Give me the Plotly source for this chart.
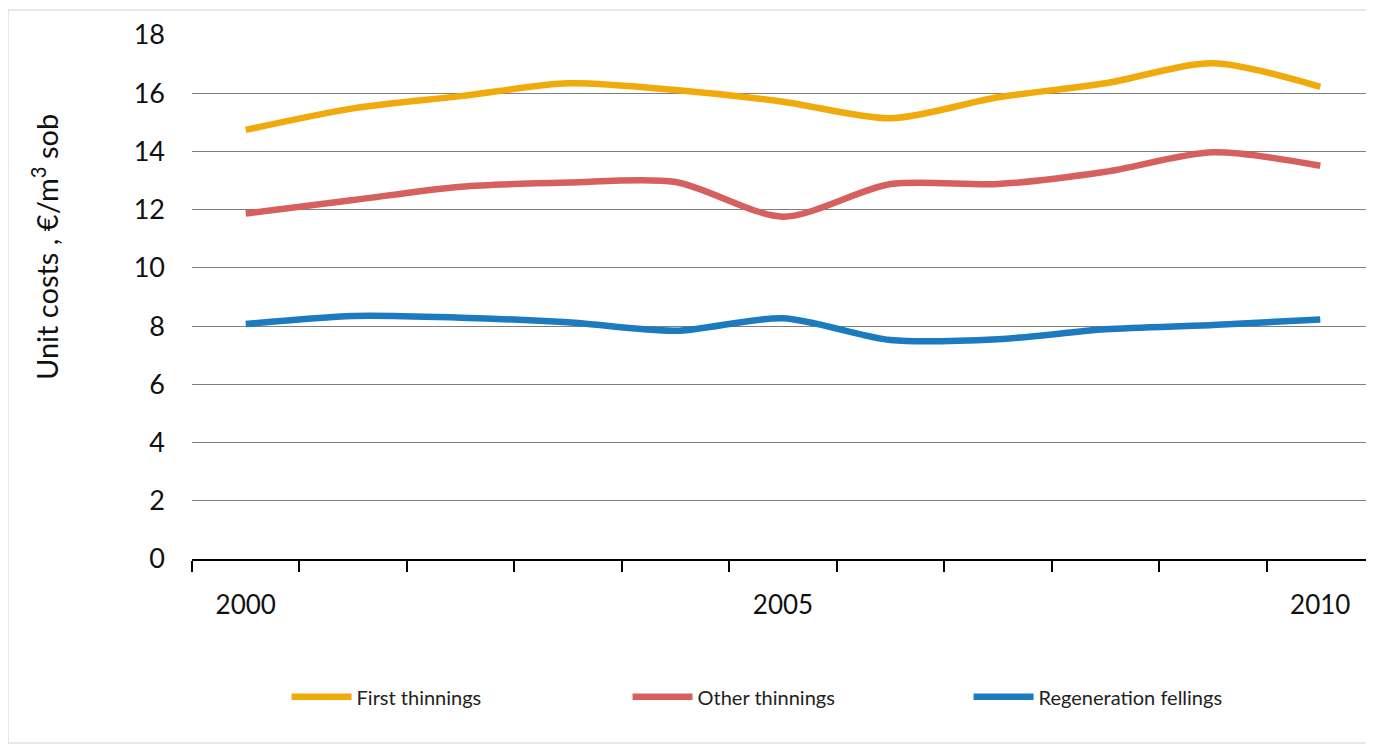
import plotly.graph_objects as go

years = [2000, 2001, 2002, 2003, 2004, 2005, 2006, 2007, 2008, 2009, 2010]
first_thinnings = [14.74, 15.48, 15.9, 16.34, 16.11, 15.71, 15.14, 15.86, 16.34, 17.03, 16.22]
other_thinnings = [11.87, 12.33, 12.79, 12.93, 12.95, 11.76, 12.88, 12.88, 13.3, 13.97, 13.51]
regeneration_fellings = [8.07, 8.35, 8.29, 8.13, 7.84, 8.27, 7.52, 7.55, 7.89, 8.04, 8.23]
series_names = ["First thinnings", "Other thinnings", "Regeneration fellings"]
colors = ["#F0AA0B", "#D6605E", "#1C7BBE"]
x_labels = ["2000", "2005", "2010"]
x_label_vals = [2000, 2005, 2010]
y_ticks = [0, 2, 4, 6, 8, 10, 12, 14, 16, 18]

FONT = "Lato"
# page has an 8px body margin; figure is sized to fill the rest of the window
W, H = 1366, 736
L, T, B = 184, 27, 185
PW, PH = W - L, H - T - B  # 1182 x 524

fig = go.Figure()
for name, vals, col in zip(series_names, [first_thinnings, other_thinnings, regeneration_fellings], colors):
    fig.add_trace(go.Scatter(
        x=years, y=vals, name=name, mode="lines",
        line=dict(color=col, width=6.5, shape="spline", smoothing=0.8),
    ))

fig.update_layout(
    width=W, height=H,
    margin=dict(l=L, r=0, t=T, b=B, autoexpand=False),
    paper_bgcolor="white", plot_bgcolor="white",
    font=dict(family=FONT, color="#000000"),
    showlegend=True,
    legend=dict(
        orientation="h", x=0.08, xanchor="left", y=-0.263, yanchor="middle",
        font=dict(family=FONT, size=20, color="#222222"),
        entrywidth=266, entrywidthmode="pixels",
        itemwidth=60,
    ),
    xaxis=dict(
        range=[1999.5, 2010.5],
        tickvals=x_label_vals, ticktext=x_labels,
        ticks="", showgrid=False, zeroline=False,
        showline=True, linecolor="#000000", linewidth=2,
        tickfont=dict(family=FONT, size=26, color="#111111"),
        ticklabelstandoff=22,
        minor=dict(tick0=1999.5, dtick=1, ticks="outside", ticklen=11, tickwidth=2, tickcolor="#000000", showgrid=False),
    ),
    yaxis=dict(
        range=[0, 18], tickvals=y_ticks,
        showgrid=True, gridcolor="#7F7F7F", gridwidth=1.3,
        zeroline=False, showline=False, ticks="",
        tickfont=dict(family=FONT, size=27, color="#111111"),
        ticklabelstandoff=26,
    ),
    shapes=[dict(
        type="rect", xref="paper", yref="paper",
        x0=(0 - L) / PW, x1=(W - 1 - L) / PW,
        y0=(PH + T - (H - 1)) / PH, y1=(PH + T - 2) / PH,
        line=dict(color="#D0D0D0", width=1), fillcolor="rgba(0,0,0,0)", layer="below",
    )],
    annotations=[dict(
        text="Unit costs , €/m<sup>3</sup> sob", textangle=-90,
        xref="paper", yref="paper", x=(45 - 192) / PW, y=(559 - 247) / PH,
        xanchor="center", yanchor="middle", showarrow=False,
        font=dict(family=FONT, size=29, color="#111111"),
    )],
)

fig.write_html("out.html")
